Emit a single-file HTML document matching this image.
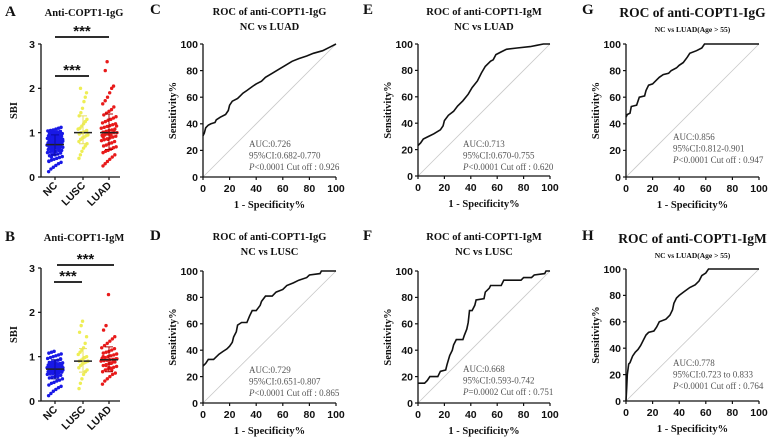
<!DOCTYPE html>
<html><head><meta charset="utf-8">
<style>
html,body{margin:0;padding:0;background:#fff;}
svg{display:block;}
.tk{font-family:"Liberation Sans",sans-serif;font-weight:bold;font-size:10.5px;fill:#111;}
.ttl{font-family:"Liberation Serif",serif;font-weight:bold;fill:#111;}
.ann{font-family:"Liberation Serif",serif;font-size:9px;fill:#555;}
.let{font-family:"Liberation Serif",serif;font-weight:bold;font-size:15px;fill:#111;}
</style></head>
<body>
<svg id="fig" width="775" height="438" viewBox="0 0 775 438" xmlns="http://www.w3.org/2000/svg"></svg>
<script>
// ---- data ----
const rocC=[[0,31],[1,33],[2,37],[4,39],[6,40],[9,41],[10,43],[13,45],[17,47],[19,50],[20,54],[22,57],[26,59],[28,61],[30,63],[33,65],[37,68],[40,70],[44,72],[47,75],[52,78],[57,81],[62,84],[67,87],[72,89],[78,91],[83,93],[90,95],[96,98],[100,100]];
const rocE=[[0,23],[2,25],[4,28],[8,30],[12,32],[17,35],[19,38],[20,42],[23,46],[27,49],[30,53],[34,57],[38,62],[41,67],[45,72],[48,78],[51,83],[55,87],[57,88],[59,92],[63,94],[67,96],[75,97],[85,98],[90,99],[95,100],[100,100]];
const rocG=[[0,45],[1,47],[3,48],[4,53],[8,54],[10,60],[14,61],[15,65],[17,69],[20,70],[23,73],[25,75],[28,77],[32,78],[34,80],[38,82],[40,84],[43,86],[46,90],[48,93],[53,95],[57,97],[59,100],[100,100]];
const rocD=[[0,28],[2,30],[4,33],[8,33],[10,35],[12,37],[15,39],[18,41],[20,43],[22,46],[23,50],[25,54],[26,59],[29,61],[33,61],[35,66],[37,70],[40,70],[43,74],[44,77],[47,81],[52,81],[55,84],[60,86],[63,89],[68,91],[72,93],[78,95],[80,97],[88,98],[89,100],[100,100]];
const rocF=[[0,15],[5,15],[7,17],[9,20],[15,20],[17,24],[21,25],[22,29],[24,36],[26,40],[27,44],[29,48],[34,48],[35,51],[37,56],[38,61],[39,70],[41,70],[43,74],[44,78],[50,79],[51,84],[54,87],[55,89],[63,89],[65,93],[78,93],[80,95],[86,95],[88,97],[96,98],[97,100],[100,100]];
const rocH=[[0,0],[0.5,10],[1,20],[2,28],[3,29],[5,34],[7,37],[9,39],[11,42],[13,46],[15,50],[17,52],[21,53],[23,56],[25,60],[30,62],[33,65],[35,69],[36,74],[38,78],[40,80],[44,83],[48,86],[52,88],[55,91],[57,95],[60,97],[62,100],[100,100]];
const rocTicks=[0,20,40,60,80,100];
const sbiTicks=[0,1,2,3];
const groups=["NC","LUSC","LUAD"];
const ncA=[0.12,0.18,0.22,0.26,0.3,0.33,0.36,0.38,0.4,0.42,0.44,0.46,0.48,0.5,0.5,0.52,0.54,0.55,0.56,0.58,0.58,0.6,0.6,0.62,0.63,0.64,0.65,0.66,0.67,0.68,0.69,0.7,0.7,0.71,0.72,0.72,0.73,0.74,0.75,0.76,0.77,0.78,0.78,0.8,0.8,0.81,0.82,0.83,0.84,0.85,0.86,0.87,0.88,0.89,0.9,0.91,0.92,0.93,0.94,0.95,0.96,0.97,0.98,0.99,1.0,1.01,1.02,1.03,1.04,1.05,1.06,1.08,1.1,1.12,0.35,0.45,0.55,0.65,0.75,0.85,0.95,0.6,0.7,0.8,0.9];
const luscA=[0.42,0.5,0.58,0.65,0.7,0.75,0.8,0.85,0.88,0.9,0.93,0.95,0.97,1.0,1.0,1.02,1.05,1.08,1.1,1.15,1.2,1.25,1.3,1.38,1.45,1.55,1.7,1.8,1.9,2.0];
const luadA=[0.25,0.3,0.35,0.4,0.45,0.5,0.55,0.58,0.6,0.63,0.66,0.68,0.7,0.72,0.75,0.77,0.8,0.82,0.84,0.86,0.88,0.9,0.92,0.94,0.95,0.97,0.98,1.0,1.0,1.01,1.03,1.05,1.06,1.08,1.1,1.12,1.14,1.16,1.18,1.2,1.22,1.25,1.28,1.3,1.33,1.36,1.4,1.44,1.48,1.52,1.58,1.65,1.72,1.8,1.9,2.0,2.05,2.4,2.6,0.85,0.95,1.05,1.15,0.9,1.0];
const ncB=[0.12,0.17,0.22,0.26,0.3,0.33,0.36,0.4,0.42,0.45,0.47,0.5,0.52,0.54,0.55,0.57,0.58,0.6,0.61,0.62,0.63,0.64,0.65,0.66,0.67,0.68,0.69,0.7,0.7,0.71,0.72,0.72,0.73,0.74,0.75,0.76,0.77,0.78,0.79,0.8,0.81,0.82,0.83,0.84,0.85,0.86,0.87,0.88,0.9,0.92,0.94,0.96,0.98,1.0,1.02,1.04,1.06,1.08,1.1,1.12,0.6,0.7,0.75,0.8,0.65,0.85,0.55,0.95];
const luscB=[0.28,0.4,0.5,0.6,0.66,0.7,0.75,0.8,0.84,0.86,0.88,0.9,0.9,0.92,0.95,0.98,1.0,1.05,1.1,1.15,1.2,1.3,1.45,1.55,1.7,1.8];
const luadB=[0.38,0.45,0.5,0.55,0.6,0.63,0.66,0.7,0.72,0.74,0.76,0.78,0.8,0.82,0.84,0.86,0.88,0.9,0.91,0.92,0.93,0.94,0.95,0.96,0.98,1.0,1.02,1.04,1.06,1.08,1.1,1.12,1.15,1.18,1.2,1.25,1.3,1.35,1.4,1.45,1.6,1.7,2.4,0.85,0.9,0.95,1.0,0.8,0.75,0.7];
const medA=[0.73,1.0,1.0], sdA=[[0.5,0.95],[0.75,1.38],[0.62,1.42]];
const medB=[0.72,0.9,0.93], sdB=[[0.5,0.93],[0.65,1.18],[0.66,1.22]];

const NS="http://www.w3.org/2000/svg";
const svg=document.getElementById('fig');
function el(tag,attrs,parent,text){const e=document.createElementNS(NS,tag);for(const k in attrs)e.setAttribute(k,attrs[k]);if(text!==undefined)e.textContent=text;(parent||svg).appendChild(e);return e;}

function rocPanel(cfg){
  const g=el('g',{});
  
  
  const x=v=>cfg.x0+(cfg.x1-cfg.x0)*v/100, y=v=>cfg.y0-(cfg.y0-cfg.y1)*v/100;
  const diag=el('line',{x1:x(0),y1:y(0),x2:x(100),y2:y(100),stroke:'#c8c8c8','stroke-width':0.8},g);
  
  
  const ax=el('path',{d:`M${x(0)},${y(100)}V${y(0)}H${x(100)}`,fill:'none',stroke:'#111','stroke-width':1.3},g);
  
  
  rocTicks.forEach(t=>{
    el('line',{x1:x(0)-3,x2:x(0),y1:y(t),y2:y(t),stroke:'#111','stroke-width':1.2},g);
    el('line',{x1:x(t),x2:x(t),y1:y(0),y2:y(0)+3,stroke:'#111','stroke-width':1.2},g);
    const yl=el('text',{x:x(0)-5,y:y(t)+3.8,'text-anchor':'end',class:'tk'},g,t);
    
    
    const xl=el('text',{x:x(t),y:y(0)+15,'text-anchor':'middle',class:'tk'},g,t);
    
    
  });
  const pts=cfg.data.map(p=>x(p[0]).toFixed(1)+','+y(p[1]).toFixed(1)).join(' ');
  const line=el('polyline',{points:pts,fill:'none',stroke:'#111','stroke-width':1.6},g);
  
  
  const cx=(cfg.x0+cfg.x1)/2;
  const t1=el('text',{x:cx,y:cfg.ty,'text-anchor':'middle',class:'ttl',style:'font-size:'+(cfg.big?13.5:10.5)+'px'},g,cfg.title);
  
  
  const t2=el('text',{x:cx,y:cfg.ty+(cfg.big?15:15),'text-anchor':'middle',class:'ttl',style:'font-size:'+(cfg.big?7.5:10.5)+'px'},g,cfg.sub);
  
  
  const xt=el('text',{x:cx,y:cfg.y0+31,'text-anchor':'middle',class:'ttl',style:'font-size:10.5px'},g,'1 - Specificity%');
  
  
  const ym=(cfg.y0+cfg.y1)/2, yx=cfg.x0-27;
  const yt=el('text',{x:yx,y:ym,'text-anchor':'middle',class:'ttl',style:'font-size:10.5px',transform:`rotate(-90 ${yx} ${ym})`},g,'Sensitivity%');
  
  
  const ann=el('text',{x:cfg.ax,y:cfg.ay,class:'ann'},g);
  
  
  el('tspan',{x:cfg.ax,dy:0},ann,cfg.a1);
  el('tspan',{x:cfg.ax,dy:11.5},ann,cfg.a2);
  el('tspan',{x:cfg.ax,dy:11.5,'font-style':'italic'},ann,'P');
  el('tspan',{},ann,cfg.a3);
  const lt=el('text',{x:cfg.lx,y:cfg.ly,class:'let'},g,cfg.letter);
  
  
}

function scatterPanel(cfg){
  const g=el('g',{});
  
  
  const y=v=>cfg.y0-(cfg.y0-cfg.y1)*v/3;
  const cxs=[55,83,109], widths=[8,5,8], cols=['#1818e6','#eeee55','#e81a1a'], sdc=['#0a0aa0','#e8e060','#b00000'];
  const ax=el('path',{d:`M41,${y(3)}V${y(0)}H120`,fill:'none',stroke:'#111','stroke-width':1.3},g);
  
  
  sbiTicks.forEach(t=>{
    el('line',{x1:38,x2:41,y1:y(t),y2:y(t),stroke:'#111','stroke-width':1.2},g);
    const l=el('text',{x:35,y:y(t)+3.8,'text-anchor':'end',class:'tk'},g,t);
    
    
  });
  cfg.data.forEach((arr,gi)=>{
    arr.forEach((v,i)=>{
      const jit=((i*37)%17/16-0.5)*2*widths[gi]*(1-Math.abs(v-cfg.med[gi])/3);
      const c=el('circle',{cx:cxs[gi]+jit,cy:y(v),r:1.7,fill:cols[gi]},g);
      
      
    });
    const m=el('line',{x1:cxs[gi]-9,x2:cxs[gi]+9,y1:y(cfg.med[gi]),y2:y(cfg.med[gi]),stroke:'#222','stroke-width':1.5},g);
    
    
    const s=cfg.sd[gi];
    el('path',{d:`M${cxs[gi]},${y(s[0])}V${y(s[1])}M${cxs[gi]-4},${y(s[0])}h8M${cxs[gi]-4},${y(s[1])}h8`,stroke:sdc[gi],'stroke-width':1,fill:'none'},g);
    el('line',{x1:cxs[gi],x2:cxs[gi],y1:y(0),y2:y(0)+3,stroke:'#111','stroke-width':1.2},g);
    const lx=cxs[gi]+3, ly=y(0)+9;
    const lab=el('text',{x:lx,y:ly,'text-anchor':'end',class:'tk',transform:`rotate(-45 ${lx} ${ly})`},g,groups[gi]);
    
    
  });
  cfg.bars.forEach(b=>{
    const bl=el('line',{x1:b[0],x2:b[1],y1:b[2],y2:b[2],stroke:'#111','stroke-width':1.8},g);
    
    
    const st=el('text',{x:(b[0]+b[1])/2,y:b[2]-1,'text-anchor':'middle',class:'tk',style:'font-size:15px'},g,'***');
    
    
  });
  const ym=(y(0)+y(3))/2;
  const yt=el('text',{x:17,y:ym,'text-anchor':'middle',class:'ttl',style:'font-size:10.5px',transform:`rotate(-90 17 ${ym})`},g,'SBI');
  
  
  const t=el('text',{x:84,y:cfg.ty,'text-anchor':'middle',class:'ttl',style:'font-size:10.5px'},g,cfg.title);
  
  
  const lt=el('text',{x:5,y:cfg.ty,class:'let'},g,cfg.letter);
  
  
}

scatterPanel({name:'panel-a',letter:'A',title:'Anti-COPT1-IgG',ty:16,y0:177,y1:44,data:[ncA,luscA,luadA],med:medA,sd:sdA,bars:[[55,109,37],[55,89,76]]});
scatterPanel({name:'panel-b',letter:'B',title:'Anti-COPT1-IgM',ty:241,y0:401,y1:268,data:[ncB,luscB,luadB],med:medB,sd:sdB,bars:[[57,114,265],[54,82,282]]});
rocPanel({name:'panel-c',letter:'C',lx:150,ly:14,data:rocC,x0:203,x1:336,y0:177,y1:44,ty:15,title:'ROC of anti-COPT1-IgG',sub:'NC vs LUAD',ax:249,ay:147,a1:'AUC:0.726',a2:'95%CI:0.682-0.770',a3:'<0.0001  Cut off : 0.926'});
rocPanel({name:'panel-e',letter:'E',lx:363,ly:14,data:rocE,x0:418,x1:550,y0:176,y1:44,ty:15,title:'ROC of anti-COPT1-IgM',sub:'NC vs LUAD',ax:463,ay:147,a1:'AUC:0.713',a2:'95%CI:0.670-0.755',a3:'<0.0001   Cut off : 0.620'});
rocPanel({name:'panel-g',letter:'G',lx:582,ly:14,big:true,data:rocG,x0:626,x1:759,y0:177,y1:44,ty:17,title:'ROC of anti-COPT1-IgG',sub:'NC vs LUAD(Age > 55)',ax:673,ay:140,a1:'AUC:0.856',a2:'95%CI:0.812-0.901',a3:'<0.0001   Cut off : 0.947'});
rocPanel({name:'panel-d',letter:'D',lx:150,ly:240,data:rocD,x0:203,x1:336,y0:403,y1:271,ty:240,title:'ROC of anti-COPT1-IgG',sub:'NC vs LUSC',ax:249,ay:373,a1:'AUC:0.729',a2:'95%CI:0.651-0.807',a3:'<0.0001   Cut off : 0.865'});
rocPanel({name:'panel-f',letter:'F',lx:363,ly:240,data:rocF,x0:418,x1:550,y0:403,y1:271,ty:240,title:'ROC of anti-COPT1-IgM',sub:'NC vs LUSC',ax:463,ay:372,a1:'AUC:0.668',a2:'95%CI:0.593-0.742',a3:'=0.0002  Cut off : 0.751'});
rocPanel({name:'panel-h',letter:'H',lx:582,ly:240,big:true,data:rocH,x0:626,x1:759,y0:401,y1:269,ty:243,title:'ROC of anti-COPT1-IgM',sub:'NC vs LUAD(Age > 55)',ax:673,ay:366,a1:'AUC:0.778',a2:'95%CI:0.723 to 0.833',a3:'<0.0001   Cut off : 0.764'});
</script>
</body></html>
